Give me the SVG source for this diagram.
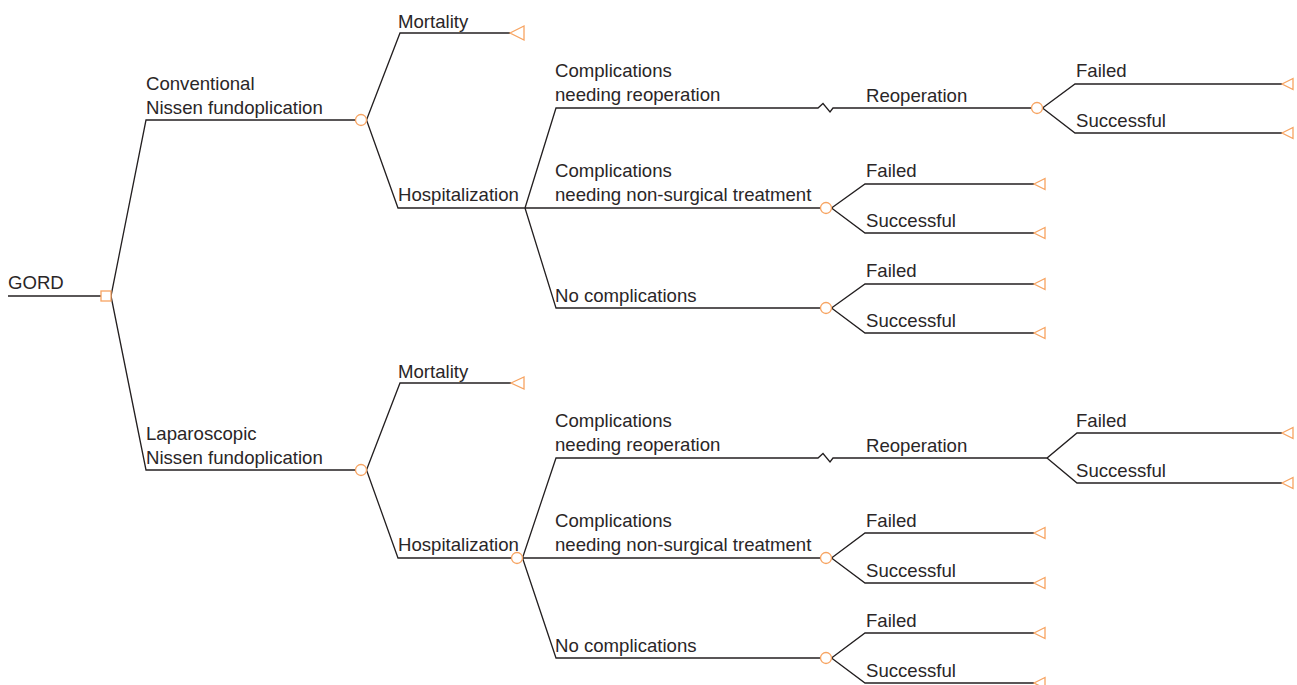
<svg xmlns="http://www.w3.org/2000/svg" width="1297" height="685" viewBox="0 0 1297 685">
<defs>
<style>
.br{fill:none;stroke:#231f20;stroke-width:1.3;stroke-linejoin:miter}
.nd{fill:#fff;stroke:#f7a462;stroke-width:1.3}
.tm{fill:none;stroke:#f7a462;stroke-width:1.3}
text{font-family:"Liberation Sans",Arial,sans-serif;font-size:18.6px;fill:#2a2627}
</style>
</defs>
<rect width="1297" height="685" fill="#fff"/>
<g id="connectors">
<path class="br" d="M8,296H101"/>
<path class="br" d="M111,296L146,120H355.5"/>
<path class="br" d="M111,296L146,470H355.5"/>
<path class="br" d="M366.5,120L400,33H510"/>
<path class="br" d="M366.5,120L398,208H525L556,108H818L823,103.5L830,112L833,108H1031.5"/>
<path class="br" d="M525,208H820.5"/>
<path class="br" d="M525,208L556,308H820.5"/>
<path class="br" d="M1042.5,108L1075,84H1282"/>
<path class="br" d="M1042.5,108L1075,133H1282"/>
<path class="br" d="M831.5,208L865,184H1034"/>
<path class="br" d="M831.5,208L865,233H1034"/>
<path class="br" d="M831.5,308L865,284H1034"/>
<path class="br" d="M831.5,308L865,333H1034"/>
<path class="br" d="M366.5,470L400,383H511"/>
<path class="br" d="M366.5,470L398,558H511.5"/>
<path class="br" d="M522.5,558L556,458H818L823,453.5L830,462L833,458H1047L1077,433H1282"/>
<path class="br" d="M1047,458L1077,483H1282"/>
<path class="br" d="M522.5,558H820.5"/>
<path class="br" d="M522.5,558L556,658H820.5"/>
<path class="br" d="M831.5,558L865,533H1034"/>
<path class="br" d="M831.5,558L865,583H1034"/>
<path class="br" d="M831.5,658L865,633H1034"/>
<path class="br" d="M831.5,658L865,683H1034"/>
</g>
<g id="labels">
<text x="8" y="289">GORD</text>
<text x="146" y="90">Conventional</text>
<text x="146" y="114">Nissen fundoplication</text>
<text x="398" y="28">Mortality</text>
<text x="398" y="201">Hospitalization</text>
<text x="555" y="77">Complications</text>
<text x="555" y="101">needing reoperation</text>
<text x="866" y="102">Reoperation</text>
<text x="1076" y="77">Failed</text>
<text x="1076" y="127">Successful</text>
<text x="555" y="177">Complications</text>
<text x="555" y="201">needing non-surgical treatment</text>
<text x="866" y="177">Failed</text>
<text x="866" y="227">Successful</text>
<text x="555" y="302">No complications</text>
<text x="866" y="277">Failed</text>
<text x="866" y="327">Successful</text>
<text x="146" y="440">Laparoscopic</text>
<text x="146" y="464">Nissen fundoplication</text>
<text x="398" y="378">Mortality</text>
<text x="398" y="551">Hospitalization</text>
<text x="555" y="427">Complications</text>
<text x="555" y="451">needing reoperation</text>
<text x="866" y="452">Reoperation</text>
<text x="1076" y="427">Failed</text>
<text x="1076" y="477">Successful</text>
<text x="555" y="527">Complications</text>
<text x="555" y="551">needing non-surgical treatment</text>
<text x="866" y="527">Failed</text>
<text x="866" y="577">Successful</text>
<text x="555" y="652">No complications</text>
<text x="866" y="627">Failed</text>
<text x="866" y="677">Successful</text>
</g>
<g id="decision-gord"><rect class="nd" x="101" y="291" width="10" height="10"/></g>
<g id="chance-conventional"><circle class="nd" cx="361" cy="120" r="5.5"/></g>
<g id="chance-reop-conv"><circle class="nd" cx="1037" cy="108" r="5.5"/></g>
<g id="chance-nonsurg-conv"><circle class="nd" cx="826" cy="208" r="5.5"/></g>
<g id="chance-nocomp-conv"><circle class="nd" cx="826" cy="308" r="5.5"/></g>
<g id="chance-laparoscopic"><circle class="nd" cx="361" cy="470" r="5.5"/></g>
<g id="chance-hosp-lap"><circle class="nd" cx="517" cy="558" r="5.5"/></g>
<g id="chance-nonsurg-lap"><circle class="nd" cx="826" cy="558" r="5.5"/></g>
<g id="chance-nocomp-lap"><circle class="nd" cx="826" cy="658" r="5.5"/></g>
<g id="term-mort-conv"><path class="tm" d="M510,33L524,26V40Z"/></g>
<g id="term-reop-fail-conv"><path class="tm" d="M1282,84L1293,78.5V89.5Z"/></g>
<g id="term-reop-succ-conv"><path class="tm" d="M1282,133L1293,127.5V138.5Z"/></g>
<g id="term-ns-fail-conv"><path class="tm" d="M1034,184L1045,178.5V189.5Z"/></g>
<g id="term-ns-succ-conv"><path class="tm" d="M1034,233L1045,227.5V238.5Z"/></g>
<g id="term-nc-fail-conv"><path class="tm" d="M1034,284L1045,278.5V289.5Z"/></g>
<g id="term-nc-succ-conv"><path class="tm" d="M1034,333L1045,327.5V338.5Z"/></g>
<g id="term-mort-lap"><path class="tm" d="M511,383L524,377V389Z"/></g>
<g id="term-reop-fail-lap"><path class="tm" d="M1282,433L1293,427.5V438.5Z"/></g>
<g id="term-reop-succ-lap"><path class="tm" d="M1282,483L1293,477.5V488.5Z"/></g>
<g id="term-ns-fail-lap"><path class="tm" d="M1034,533L1045,527.5V538.5Z"/></g>
<g id="term-ns-succ-lap"><path class="tm" d="M1034,583L1045,577.5V588.5Z"/></g>
<g id="term-nc-fail-lap"><path class="tm" d="M1034,633L1045,627.5V638.5Z"/></g>
<g id="term-nc-succ-lap"><path class="tm" d="M1034,683L1045,677.5V688.5Z"/></g>
</svg>
